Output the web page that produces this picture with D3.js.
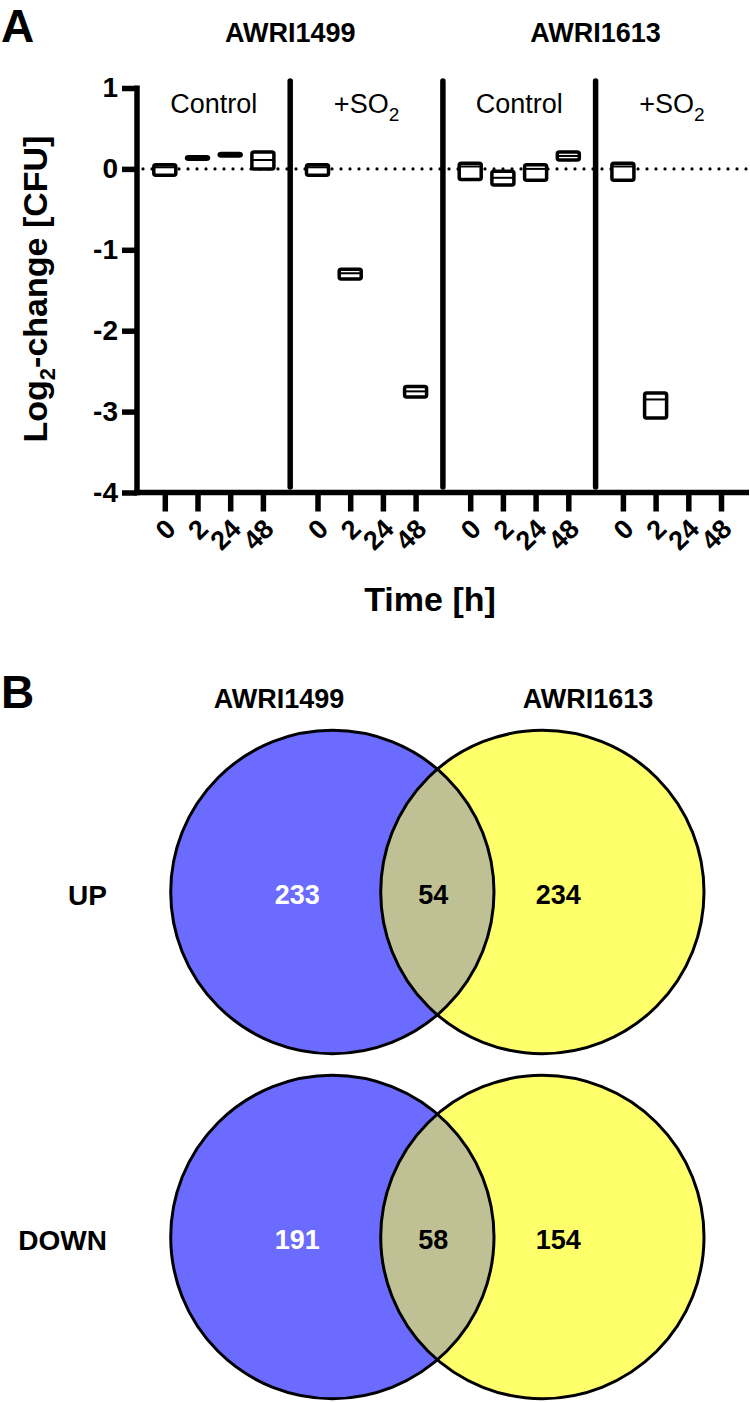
<!DOCTYPE html>
<html>
<head>
<meta charset="utf-8">
<script src="https://cdn.jsdelivr.net/npm/d3@7/dist/d3.min.js"></script>
<style>
  html, body { margin: 0; padding: 0; background: #fff; }
  svg { display: block; }
  text { font-family: "Liberation Sans", Arial, Helvetica, sans-serif; }
</style>
</head>
<body>
<svg id="chart" width="750" height="1402"></svg>
<script>
// ---------------- DATA ----------------
const strains = ["AWRI1499", "AWRI1613"];
const treatments = ["Control", "+SO2"];
const timeLabels = ["0", "2", "24", "48"];
const yTicks = [1, 0, -1, -2, -3, -4];

// [min, median, max] log2-change per time point (null = no data)
const awri1499Control = [[-0.08, 0.02, 0.05], [0.12, 0.14, 0.15], [0.16, 0.18, 0.19], [0.00, 0.11, 0.21]];
const awri1499SO2     = [[-0.08, 0.02, 0.05], [-1.36, -1.29, -1.24], null, [-2.82, -2.75, -2.69]];
const awri1613Control = [[-0.13, 0.03, 0.07], [-0.20, -0.11, -0.03], [-0.14, 0.00, 0.05], [0.11, 0.16, 0.21]];
const awri1613SO2     = [[-0.14, 0.03, 0.07], [-3.08, -2.85, -2.77], null, null];

const vennRows = ["UP", "DOWN"];
const only1499 = [233, 191];
const shared   = [54, 58];
const only1613 = [234, 154];

// ---------------- SETUP ----------------
const svg = d3.select("#chart");
const groups = [awri1499Control, awri1499SO2, awri1613Control, awri1613SO2];
const groupGap = 4.67;            // position units between group starts
const posOf = (g, i) => g * groupGap + i;

const x = d3.scaleLinear().domain([0, posOf(3, 3)]).range([164.8, 721]);
const y = d3.scaleLinear().domain([-4, 1]).range([492.5, 88]);

const axisX0 = 137, axisX1 = 749, axisY = 492.5;
const thick = 5.5;

// Panel label A
svg.append("text").attr("x", 1).attr("y", 42).attr("font-size", 46).attr("font-weight", "bold").text("A");

// strain headers
strains.forEach((s, k) => {
  const cx = (x(posOf(2 * k, 0)) + x(posOf(2 * k + 1, 3))) / 2;
  svg.append("text").attr("x", cx).attr("y", 42).attr("text-anchor", "middle")
    .attr("font-size", 27).attr("font-weight", "bold").text(s);
});

// treatment labels
groups.forEach((g, gi) => {
  const cx = (x(posOf(gi, 0)) + x(posOf(gi, 3))) / 2;
  const t = treatments[gi % 2];
  const txt = svg.append("text").attr("x", cx).attr("y", 113).attr("text-anchor", "middle")
    .attr("font-size", 27);
  if (t === "+SO2") {
    txt.append("tspan").text("+SO");
    txt.append("tspan").attr("font-size", 19).attr("dy", 8).text("2");
  } else {
    txt.text(t);
  }
});

// zero dotted line
svg.append("line")
  .attr("x1", axisX0 + 6).attr("x2", axisX1).attr("y1", y(0)).attr("y2", y(0))
  .attr("stroke", "#000").attr("stroke-width", 3.2).attr("stroke-linecap", "round")
  .attr("stroke-dasharray", "0,9");

// dividers
[0, 1, 2].forEach(gi => {
  const xd = (x(posOf(gi, 3)) + x(posOf(gi + 1, 0))) / 2;
  svg.append("line").attr("x1", xd).attr("x2", xd).attr("y1", 81).attr("y2", 487)
    .attr("stroke", "#000").attr("stroke-width", thick).attr("stroke-linecap", "round");
});

// y axis
const yAxis = d3.axisLeft(y).tickValues(yTicks).tickSize(15).tickPadding(4).tickFormat(d => String(d));
const gy = svg.append("g").attr("transform", `translate(${axisX0},0)`).call(yAxis);
gy.select(".domain").remove();
gy.selectAll(".tick line").attr("stroke-width", thick);
gy.selectAll(".tick text").attr("font-size", 28).attr("font-weight", "bold").attr("fill", "#000")
  .attr("font-family", "Liberation Sans, Arial, sans-serif");
svg.append("line").attr("x1", axisX0).attr("x2", axisX0).attr("y1", 85.5).attr("y2", axisY + thick / 2)
  .attr("stroke", "#000").attr("stroke-width", thick);

// x axis
const tickPos = [], tickLab = [];
groups.forEach((g, gi) => timeLabels.forEach((t, i) => { tickPos.push(posOf(gi, i)); tickLab.push(t); }));
const xAxis = d3.axisBottom(x).tickValues(tickPos).tickSize(19)
  .tickFormat((d, i) => tickLab[i]);
const gx = svg.append("g").attr("transform", `translate(0,${axisY})`).call(xAxis);
gx.select(".domain").remove();
gx.selectAll(".tick line").attr("stroke-width", thick);
gx.selectAll(".tick text")
  .attr("y", 0).attr("dy", 0)
  .attr("transform", "translate(12,38) rotate(-45)")
  .attr("text-anchor", "end")
  .attr("font-size", 27).attr("font-weight", "bold").attr("fill", "#000")
  .attr("font-family", "Liberation Sans, Arial, sans-serif");
svg.append("line").attr("x1", axisX0 - thick / 2).attr("x2", axisX1).attr("y1", axisY).attr("y2", axisY)
  .attr("stroke", "#000").attr("stroke-width", thick);

// x title
svg.append("text").attr("x", 430).attr("y", 611).attr("text-anchor", "middle")
  .attr("font-size", 34).attr("font-weight", "bold").text("Time [h]");

// y title
const yt = svg.append("text").attr("transform", `translate(47,289) rotate(-90)`)
  .attr("text-anchor", "middle").attr("font-size", 34).attr("font-weight", "bold");
yt.append("tspan").text("Log");
yt.append("tspan").attr("font-size", 22).attr("dy", 8).text("2");
yt.append("tspan").attr("dy", -8).text("-change [CFU]");

// boxes
const bw = 22;
groups.forEach((g, gi) => {
  g.forEach((v, i) => {
    if (!v) return;
    const cx = x(posOf(gi, i));
    const [mn, md, mx] = v;
    svg.append("rect")
      .attr("x", cx - bw / 2).attr("width", bw)
      .attr("y", y(mx)).attr("height", Math.max(0.5, y(mn) - y(mx)))
      .attr("rx", 2).attr("fill", "#fff").attr("stroke", "#000").attr("stroke-width", 3.5);
    svg.append("line").attr("x1", cx - bw / 2).attr("x2", cx + bw / 2)
      .attr("y1", y(md)).attr("y2", y(md)).attr("stroke", "#000").attr("stroke-width", 2);
  });
});

// ---------------- PANEL B ----------------
svg.append("text").attr("x", 1).attr("y", 708).attr("font-size", 46).attr("font-weight", "bold").text("B");

const r = 161.65, c1x = 332.35, c2x = 542.35;
const rowCy = [892, 1237];
const mxV = (c1x + c2x) / 2;
const hChord = Math.sqrt(r * r - ((c2x - c1x) / 2) ** 2);

svg.append("text").attr("x", 279).attr("y", 708).attr("text-anchor", "middle")
  .attr("font-size", 27).attr("font-weight", "bold").text(strains[0]);
svg.append("text").attr("x", 588).attr("y", 708).attr("text-anchor", "middle")
  .attr("font-size", 27).attr("font-weight", "bold").text(strains[1]);

vennRows.forEach((row, k) => {
  const cy = rowCy[k];
  const g = svg.append("g");
  g.append("circle").attr("cx", c1x).attr("cy", cy).attr("r", r).attr("fill", "#6b6bff");
  g.append("circle").attr("cx", c2x).attr("cy", cy).attr("r", r).attr("fill", "#ffff6b");
  g.append("path")
    .attr("d", `M${mxV},${cy - hChord} A${r},${r} 0 0 1 ${mxV},${cy + hChord} A${r},${r} 0 0 1 ${mxV},${cy - hChord} Z`)
    .attr("fill", "#c0c095");
  g.append("circle").attr("cx", c1x).attr("cy", cy).attr("r", r).attr("fill", "none").attr("stroke", "#000").attr("stroke-width", 3);
  g.append("circle").attr("cx", c2x).attr("cy", cy).attr("r", r).attr("fill", "none").attr("stroke", "#000").attr("stroke-width", 3);

  const numY = cy + 3;
  const lab = (xx, t, col) => g.append("text").attr("x", xx).attr("y", numY).attr("dy", "0.35em")
    .attr("text-anchor", "middle").attr("font-size", 27).attr("font-weight", "bold").attr("fill", col).text(t);
  lab(c1x - 35, only1499[k], "#fff");
  lab(mxV - 4, shared[k], "#000");
  lab(c2x + 16, only1613[k], "#000");

  svg.append("text").attr("x", 107).attr("y", numY).attr("dy", "0.35em").attr("text-anchor", "end")
    .attr("font-size", 28).attr("font-weight", "bold").text(row);
});
</script>
</body>
</html>
